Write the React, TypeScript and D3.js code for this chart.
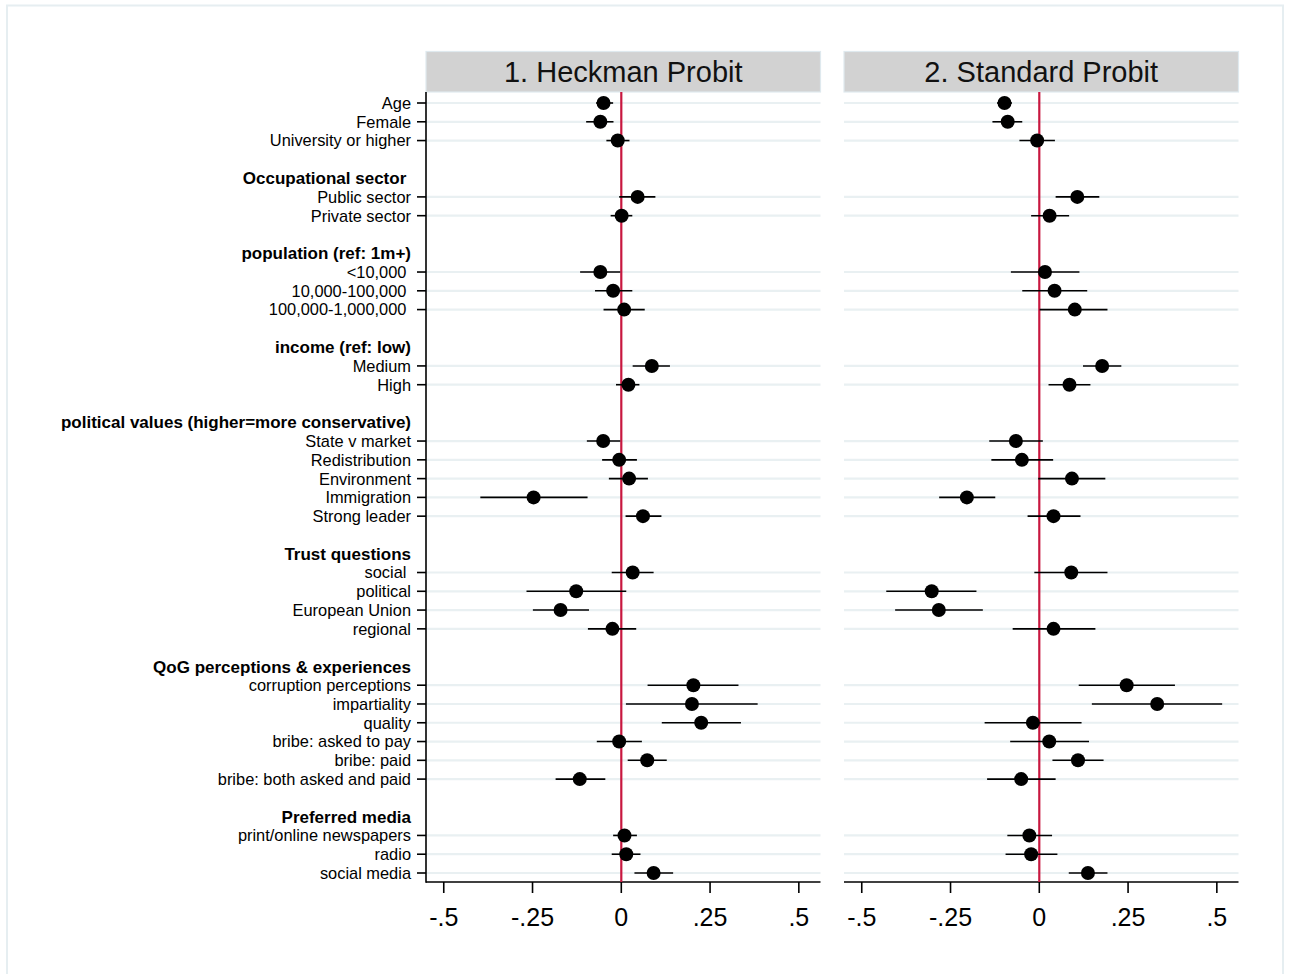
import React from "react";
import * as d3 from "d3";

// Row layout of the coefficient plot: "" is an empty spacer row
const rowLabels = [
  "Age", "Female", "University or higher", "",
  "Occupational sector ", "Public sector", "Private sector", "",
  "population (ref: 1m+)", "<10,000 ", "10,000-100,000 ", "100,000-1,000,000 ", "",
  "income (ref: low)", "Medium", "High", "",
  "political values (higher=more conservative)", "State v market", "Redistribution", "Environment", "Immigration", "Strong leader", "",
  "Trust questions", "social ", "political", "European Union", "regional", "",
  "QoG perceptions & experiences", "corruption perceptions", "impartiality", "quality", "bribe: asked to pay", "bribe: paid", "bribe: both asked and paid", "",
  "Preferred media", "print/online newspapers", "radio", "social media",
];

const headerLabels = [
  "Occupational sector ",
  "population (ref: 1m+)",
  "income (ref: low)",
  "political values (higher=more conservative)",
  "Trust questions",
  "QoG perceptions & experiences",
  "Preferred media",
];

const modelTitles = ["1. Heckman Probit", "2. Standard Probit"];

// Estimates and 95% confidence bounds, in coefficient-row order
const heckmanEst = [-0.050, -0.059, -0.010, 0.046, 0.001, -0.059, -0.023, 0.008, 0.086, 0.020, -0.051, -0.006, 0.022, -0.247, 0.061, 0.032, -0.127, -0.171, -0.025, 0.203, 0.199, 0.225, -0.006, 0.073, -0.117, 0.009, 0.014, 0.091];
const heckmanLo = [-0.071, -0.099, -0.042, -0.006, -0.030, -0.116, -0.074, -0.050, 0.032, -0.015, -0.097, -0.054, -0.035, -0.397, 0.012, -0.027, -0.267, -0.249, -0.094, 0.074, 0.013, 0.114, -0.069, 0.018, -0.185, -0.023, -0.027, 0.037];
const heckmanHi = [-0.023, -0.022, 0.023, 0.096, 0.031, -0.003, 0.031, 0.066, 0.137, 0.051, -0.003, 0.044, 0.075, -0.095, 0.113, 0.091, 0.014, -0.091, 0.042, 0.330, 0.384, 0.337, 0.058, 0.128, -0.045, 0.044, 0.054, 0.146];

const standardEst = [-0.098, -0.089, -0.006, 0.107, 0.029, 0.016, 0.043, 0.100, 0.177, 0.085, -0.066, -0.049, 0.092, -0.204, 0.040, 0.090, -0.303, -0.283, 0.040, 0.246, 0.332, -0.018, 0.028, 0.109, -0.051, -0.028, -0.023, 0.137];
const standardLo = [-0.119, -0.132, -0.056, 0.046, -0.023, -0.080, -0.048, 0.001, 0.123, 0.026, -0.141, -0.135, -0.003, -0.282, -0.033, -0.014, -0.431, -0.406, -0.075, 0.111, 0.148, -0.154, -0.082, 0.037, -0.147, -0.090, -0.095, 0.083];
const standardHi = [-0.077, -0.048, 0.044, 0.169, 0.084, 0.113, 0.135, 0.192, 0.231, 0.144, 0.010, 0.039, 0.186, -0.124, 0.116, 0.192, -0.177, -0.159, 0.158, 0.382, 0.515, 0.119, 0.140, 0.181, 0.046, 0.036, 0.051, 0.192];

const xTicks = [-0.5, -0.25, 0, 0.25, 0.5];
const xTickLabels = ["-.5", "-.25", "0", ".25", ".5"];

const W = 1289;
const H = 974;
const FONT = "'Liberation Sans', Arial, sans-serif";

const plotTop = 92;
const plotBottom = 882;
const panelRanges: [number, number][] = [[426, 820.5], [844, 1238.5]];

const models = [
  { title: modelTitles[0], est: heckmanEst, lo: heckmanLo, hi: heckmanHi },
  { title: modelTitles[1], est: standardEst, lo: standardLo, hi: standardHi },
];

export default function App() {
  const y = d3.scaleLinear().domain([0, rowLabels.length - 1]).range([103, 873]);

  // indices of rows that carry a coefficient
  const coefRows = rowLabels
    .map((l, i) => ({ l, i }))
    .filter((d) => d.l !== "" && !headerLabels.includes(d.l))
    .map((d) => d.i);

  const labelX = 411;

  return (
    <svg
      width={W}
      height={H}
      style={{ position: "absolute", left: 0, top: 0, display: "block", background: "#fff" }}
      fontFamily={FONT}
    >
      {/* outer graph frame */}
      <rect x={7} y={5.5} width={1276} height={980} fill="#fff" stroke="#e6eef1" strokeWidth={2} />

      {/* y labels */}
      {rowLabels.map((l, i) =>
        l === "" ? null : (
          <text
            key={"lab" + i}
            x={labelX}
            y={y(i)}
            dy="0.36em"
            textAnchor="end"
            fontSize={headerLabels.includes(l) ? 17 : 16.4}
            fontWeight={headerLabels.includes(l) ? "bold" : "normal"}
            fill="#000"
            style={{ whiteSpace: "pre" }}
          >
            {l}
          </text>
        )
      )}

      {models.map((m, mi) => {
        const [x0, x1] = panelRanges[mi];
        const x = d3.scaleLinear().domain([-0.55, 0.561]).range([x0, x1]);
        return (
          <g key={"panel" + mi}>
            {/* panel strip */}
            <rect x={x0} y={51.5} width={x1 - x0} height={40.5} fill="#d2d2d2" stroke="#dfe9ee" strokeWidth={1.2} />
            <text x={(x0 + x1) / 2} y={81.5} textAnchor="middle" fontSize={29} fill="#111">
              {m.title}
            </text>

            {/* grid lines */}
            {coefRows.map((r) => (
              <line key={"g" + r} x1={x0} x2={x1} y1={y(r)} y2={y(r)} stroke="#e9f0f2" strokeWidth={2.2} />
            ))}

            {/* bottom axis */}
            <line x1={x0} x2={x1} y1={plotBottom} y2={plotBottom} stroke="#000" strokeWidth={1.6} />
            {xTicks.map((t, ti) => (
              <g key={"t" + ti}>
                <line x1={x(t)} x2={x(t)} y1={plotBottom} y2={plotBottom + 11} stroke="#000" strokeWidth={1.6} />
                <text x={x(t)} y={926} textAnchor="middle" fontSize={25} fill="#000">
                  {xTickLabels[ti]}
                </text>
              </g>
            ))}

            {mi === 0 && (
              <g>
                <line x1={x0} x2={x0} y1={plotTop} y2={plotBottom + 0.8} stroke="#000" strokeWidth={1.6} />
                {coefRows.map((r) => (
                  <line key={"yt" + r} x1={x0 - 9} x2={x0} y1={y(r)} y2={y(r)} stroke="#000" strokeWidth={1.6} />
                ))}
              </g>
            )}

            {/* zero reference line */}
            <line x1={x(0)} x2={x(0)} y1={plotTop} y2={plotBottom} stroke="#c8173f" strokeWidth={2.2} />

            {/* confidence intervals and point estimates */}
            {coefRows.map((r, k) => (
              <g key={"c" + r}>
                <line x1={x(m.lo[k])} x2={x(m.hi[k])} y1={y(r)} y2={y(r)} stroke="#000" strokeWidth={1.6} />
                <circle cx={x(m.est[k])} cy={y(r)} r={7} fill="#000" />
              </g>
            ))}
          </g>
        );
      })}
    </svg>
  );
}
